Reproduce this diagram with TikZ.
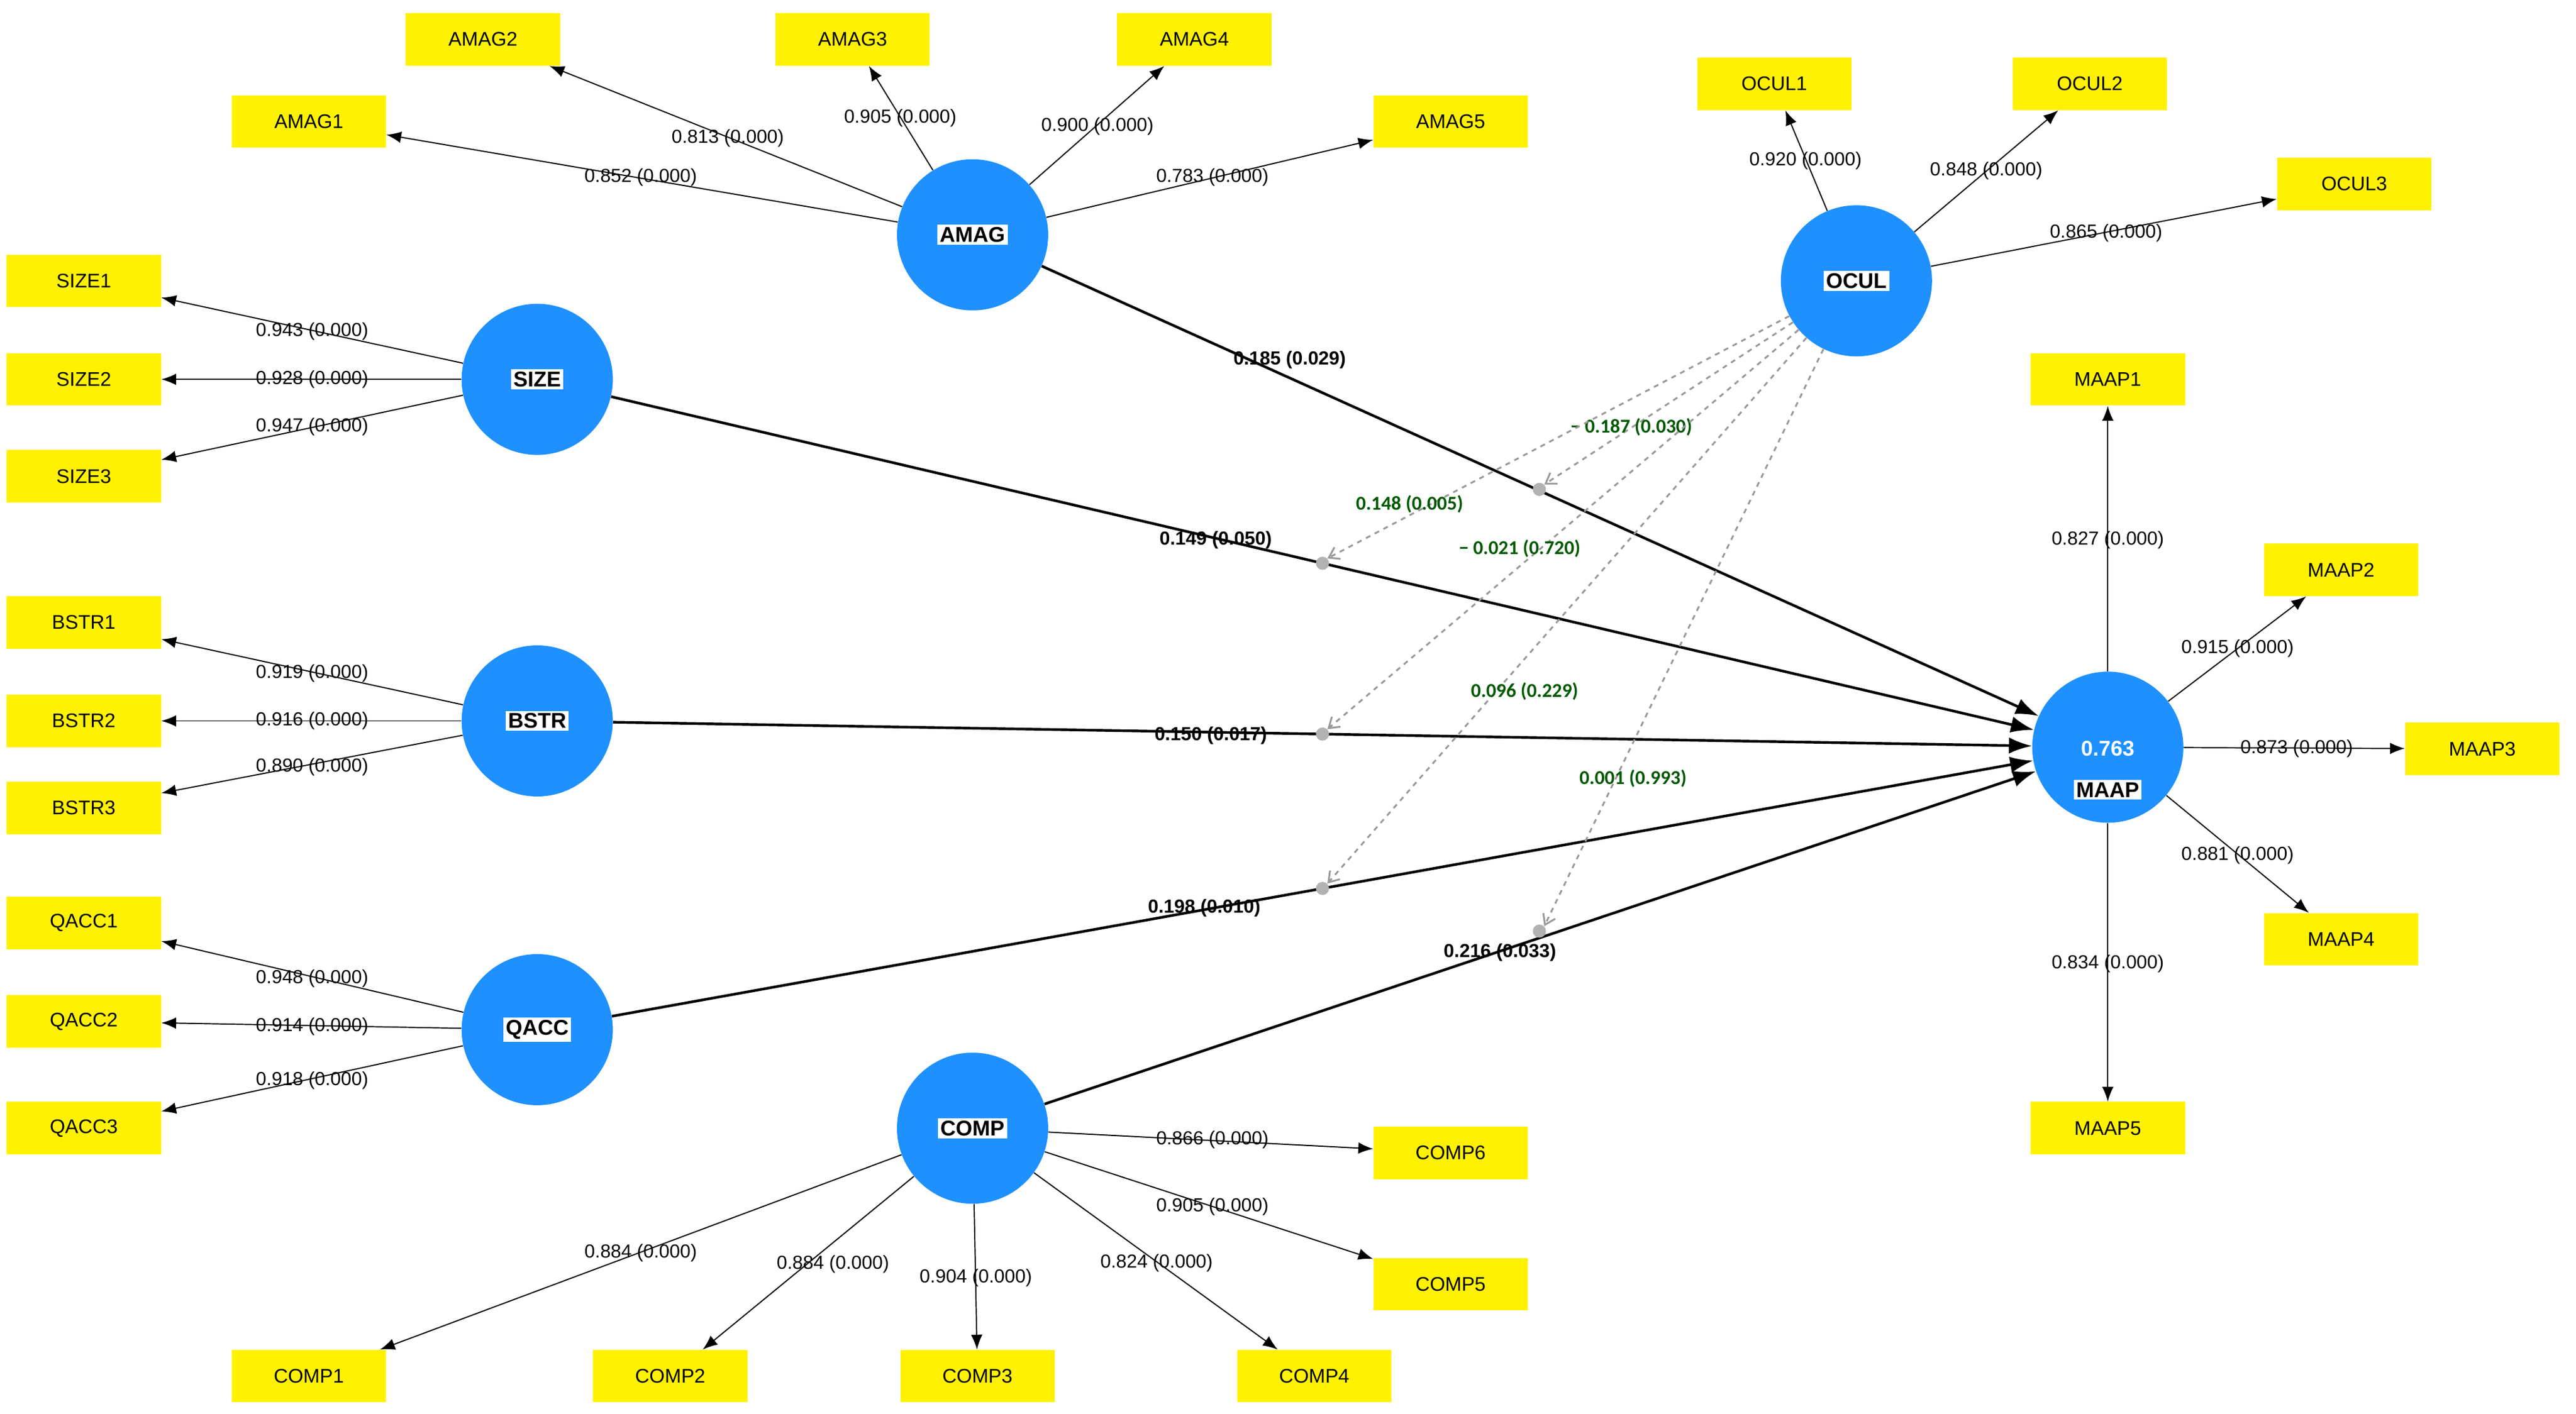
\documentclass[tikz,border=0pt]{standalone}
\usepackage{fontspec}
\setmainfont{Liberation Sans}
\newfontfamily\modfont{Carlito}
\usetikzlibrary{arrows.meta}
\begin{document}
\begin{tikzpicture}[x=1pt,y=-1pt,
 lv/.style={circle,fill=blue!50!cyan!80!black,fill=blueLV,minimum size=92pt,inner sep=0pt},
 lvt/.style={fill=white,inner sep=1.5pt,font=\fontsize{13}{13}\selectfont\bfseries},
 ind/.style={fill=yellow,minimum width=94pt,minimum height=32pt,inner sep=0pt,font=\fontsize{12}{12}\selectfont},
 ld/.style={-{Latex[length=9pt,width=7pt]},line width=0.7pt},
 pth/.style={-{Latex[length=14pt,width=10pt]},line width=1.6pt},
 mod/.style={-{Straight Barb[length=6pt,width=8pt]},dashed,draw=gray!80,line width=1.1pt},
 lab/.style={font=\fontsize{11.5}{12}\selectfont},
 plab/.style={font=\fontsize{11.5}{12}\selectfont\bfseries},
 mlab/.style={font=\modfont\fontsize{12}{12}\selectfont\bfseries,text=green!35!black},
 dot/.style={circle,fill=gray!60,inner sep=0pt,minimum size=8pt}]
\definecolor{blueLV}{RGB}{30,144,255}
\useasboundingbox (0,0) rectangle (1568,861);
% latent
\node[lv] (AMAG) at (592,143) {}; \node[lvt] at (AMAG) {AMAG};
\node[lv] (SIZE) at (327,231) {}; \node[lvt] at (SIZE) {SIZE};
\node[lv] (BSTR) at (327,439) {}; \node[lvt] at (BSTR) {BSTR};
\node[lv] (QACC) at (327,627) {}; \node[lvt] at (QACC) {QACC};
\node[lv] (COMP) at (592,687) {}; \node[lvt] at (COMP) {COMP};
\node[lv] (OCUL) at (1130,171) {}; \node[lvt] at (OCUL) {OCUL};
\node[lv] (MAAP) at (1283,455) {};
\node[text=white,font=\fontsize{13}{13}\selectfont\bfseries] (r2) at (1283,456) {0.763};
\node[lvt] at (1283,481) {MAAP};
% indicators
\foreach \n/\x/\y in {AMAG1/188/74,AMAG2/294/24,AMAG3/519/24,AMAG4/727/24,AMAG5/883/74,
 SIZE1/51/171,SIZE2/51/231,SIZE3/51/290,BSTR1/51/379,BSTR2/51/439,BSTR3/51/492,
 QACC1/51/562,QACC2/51/622,QACC3/51/687,
 COMP1/188/838,COMP2/408/838,COMP3/595/838,COMP4/800/838,COMP5/883/782,COMP6/883/702,
 OCUL1/1080/51,OCUL2/1272/51,OCUL3/1433/112,
 MAAP1/1283/231,MAAP2/1425/347,MAAP3/1511/456,MAAP4/1425/572,MAAP5/1283/687}
 \node[ind] (\n) at (\x,\y) {\n};
% loadings
\draw[ld] (AMAG) -- (AMAG1); \node[lab] at (390,108) {0.852 (0.000)};
\draw[ld] (AMAG) -- (AMAG2); \node[lab] at (443,84) {0.813 (0.000)};
\draw[ld] (AMAG) -- (AMAG3); \node[lab] at (548,72) {0.905 (0.000)};
\draw[ld] (AMAG) -- (AMAG4); \node[lab] at (668,77) {0.900 (0.000)};
\draw[ld] (AMAG) -- (AMAG5); \node[lab] at (738,108) {0.783 (0.000)};
\draw[ld] (SIZE) -- (SIZE1); \node[lab] at (190,202) {0.943 (0.000)};
\draw[ld] (SIZE) -- (SIZE2); \node[lab] at (190,231) {0.928 (0.000)};
\draw[ld] (SIZE) -- (SIZE3); \node[lab] at (190,260) {0.947 (0.000)};
\draw[ld] (BSTR) -- (BSTR1); \node[lab] at (190,410) {0.919 (0.000)};
\draw[ld] (BSTR) -- (BSTR2); \node[lab] at (190,439) {0.916 (0.000)};
\draw[ld] (BSTR) -- (BSTR3); \node[lab] at (190,467) {0.890 (0.000)};
\draw[ld] (QACC) -- (QACC1); \node[lab] at (190,596) {0.948 (0.000)};
\draw[ld] (QACC) -- (QACC2); \node[lab] at (190,625) {0.914 (0.000)};
\draw[ld] (QACC) -- (QACC3); \node[lab] at (190,658) {0.918 (0.000)};
\draw[ld] (COMP) -- (COMP1); \node[lab] at (390,763) {0.884 (0.000)};
\draw[ld] (COMP) -- (COMP2); \node[lab] at (507,770) {0.884 (0.000)};
\draw[ld] (COMP) -- (COMP3); \node[lab] at (594,778) {0.904 (0.000)};
\draw[ld] (COMP) -- (COMP4); \node[lab] at (704,769) {0.824 (0.000)};
\draw[ld] (COMP) -- (COMP5); \node[lab] at (738,735) {0.905 (0.000)};
\draw[ld] (COMP) -- (COMP6); \node[lab] at (738,694) {0.866 (0.000)};
\draw[ld] (OCUL) -- (OCUL1); \node[lab] at (1099,98) {0.920 (0.000)};
\draw[ld] (OCUL) -- (OCUL2); \node[lab] at (1209,104) {0.848 (0.000)};
\draw[ld] (OCUL) -- (OCUL3); \node[lab] at (1282,142) {0.865 (0.000)};
\draw[ld] (MAAP) -- (MAAP1); \node[lab] at (1283,329) {0.827 (0.000)};
\draw[ld] (MAAP) -- (MAAP2); \node[lab] at (1362,395) {0.915 (0.000)};
\draw[ld] (MAAP) -- (MAAP3); \node[lab] at (1398,456) {0.873 (0.000)};
\draw[ld] (MAAP) -- (MAAP4); \node[lab] at (1362,521) {0.881 (0.000)};
\draw[ld] (MAAP) -- (MAAP5); \node[lab] at (1283,587) {0.834 (0.000)};
% structural paths
\draw[pth] (AMAG) -- (MAAP); \node[plab] at (785,219) {0.185 (0.029)};
\draw[pth] (SIZE) -- (MAAP); \node[plab] at (740,329) {0.149 (0.050)};
\draw[pth] (BSTR) -- (MAAP); \node[plab] at (737,448) {0.150 (0.017)};
\draw[pth] (QACC) -- (MAAP); \node[plab] at (733,553) {0.198 (0.010)};
\draw[pth] (COMP) -- (MAAP); \node[plab] at (913,580) {0.216 (0.033)};
% moderation
\node[dot] (m1) at (937,298) {}; \node[dot] (m2) at (805,343) {};
\node[dot] (m3) at (805,447) {}; \node[dot] (m4) at (805,541) {};
\node[dot] (m5) at (937,567) {};
\draw[mod] (OCUL) -- (m1.north east); \node[mlab] at (993,260) {\textminus\ 0.187 (0.030)};
\draw[mod] (OCUL) -- (m2.north east); \node[mlab] at (858,307) {0.148 (0.005)};
\draw[mod] (OCUL) -- (m3.north east); \node[mlab] at (925,334) {\textminus\ 0.021 (0.720)};
\draw[mod] (OCUL) -- (m4.north east); \node[mlab] at (928,421) {0.096 (0.229)};
\draw[mod] (OCUL) -- (m5.north east); \node[mlab] at (994,474) {0.001 (0.993)};
\end{tikzpicture}
\end{document}
